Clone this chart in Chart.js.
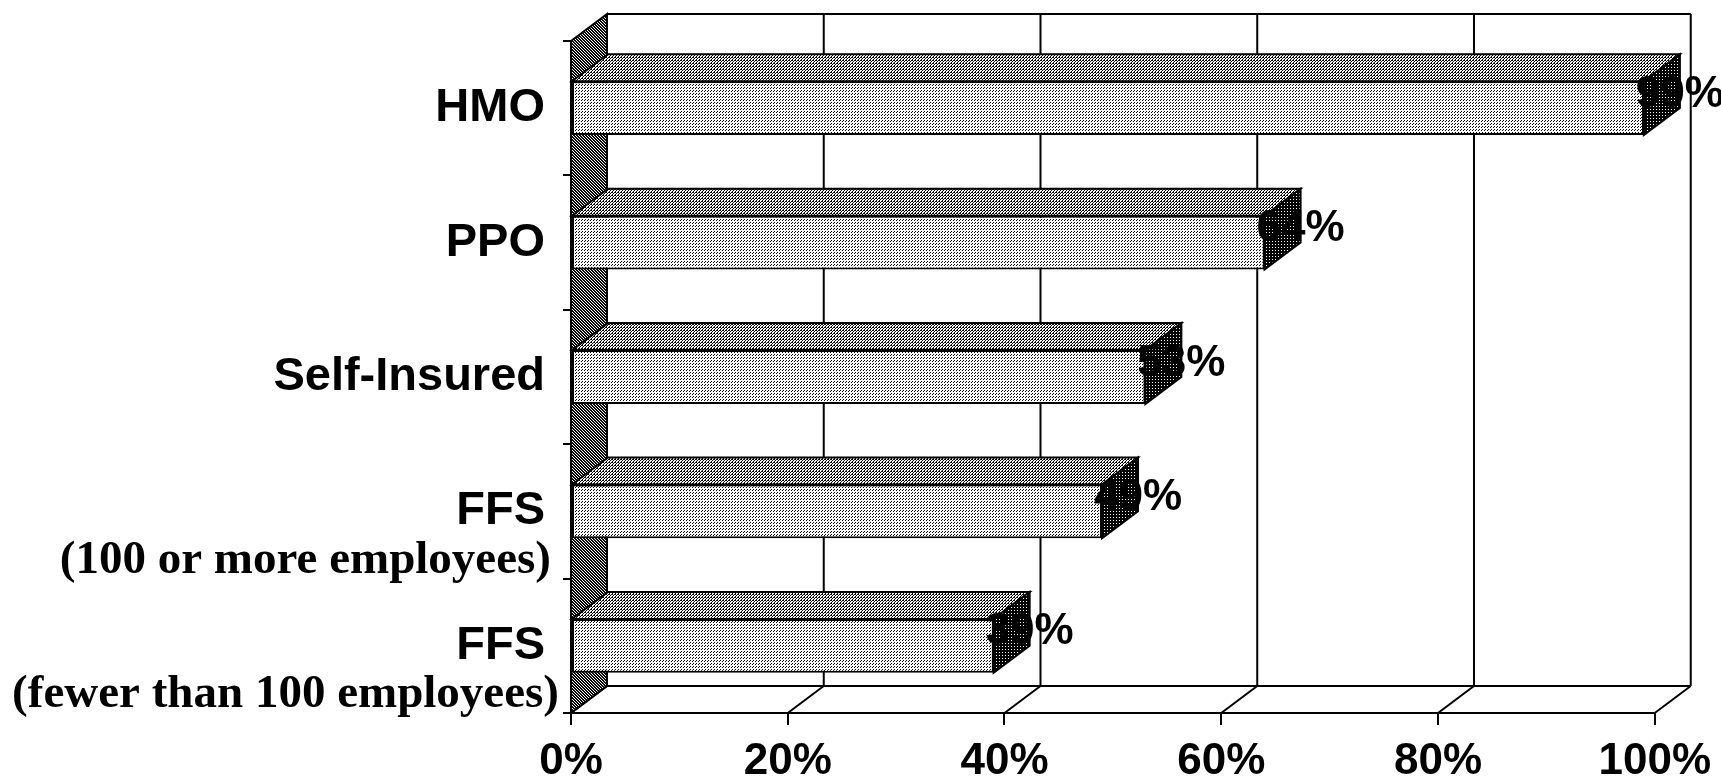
<!DOCTYPE html>
<html>
<head>
<meta charset="utf-8">
<script src="https://cdn.jsdelivr.net/npm/chart.js@4.4.1/dist/chart.umd.min.js"></script>
<style>
  body { margin: 0; background: #fff; }
  canvas { display: block; }
</style>
</head>
<body>
<canvas id="planChart" width="1721" height="784"></canvas>
<script>
// Data
const planNames = ['HMO', 'PPO', 'Self-Insured', 'FFS', 'FFS'];
const planNotes = ['', '', '', '(100 or more employees)', '(fewer than 100 employees)'];
const planShares = [99, 64, 53, 49, 39];
const shareTicks = [0, 20, 40, 60, 80, 100];

// depth offset of the fake 3D box
const DX = 36;
const DY = -27;

const canvas = document.getElementById('planChart');
const ctx = canvas.getContext('2d');

// Small stipple tiles to mimic the printed dot screens
const makePattern = (size, dots) => {
    const c = document.createElement('canvas');
    c.width = size;
    c.height = size;
    const g = c.getContext('2d');
    g.fillStyle = '#fff';
    g.fillRect(0, 0, size, size);
    g.fillStyle = '#000';
    dots.forEach(([x, y]) => g.fillRect(x, y, 1, 1));
    return ctx.createPattern(c, 'repeat');
};

const frontFill = makePattern(3, [[0, 0], [2, 1]]);
const topFill = makePattern(3, [[0, 0], [2, 0], [1, 1], [0, 2]]);
const wallFill = makePattern(3, [[0, 0], [1, 0], [1, 1], [2, 1], [0, 2], [2, 2]]);
const endFill = makePattern(3, [[0, 0], [1, 0], [2, 0], [1, 1], [2, 1], [0, 2], [1, 2], [2, 2]]);

const poly = (c, pts, fill) => {
    c.beginPath();
    c.moveTo(pts[0][0], pts[0][1]);
    pts.slice(1).forEach(p => c.lineTo(p[0], p[1]));
    c.closePath();
    if (fill) {
        c.fillStyle = fill;
        c.fill();
    }
    c.stroke();
};

const boxPlugin = {
    id: 'box3d',
    beforeDatasetsDraw(chart) {
        const c = chart.ctx;
        const area = chart.chartArea;
        const xs = chart.scales.x;
        c.save();
        c.strokeStyle = '#000';
        c.lineWidth = 2;

        // left wall
        poly(c, [
            [area.left, area.top],
            [area.left + DX, area.top + DY],
            [area.left + DX, area.bottom + DY],
            [area.left, area.bottom]
        ], wallFill);

        // back wall top edge and back floor edge
        c.beginPath();
        c.moveTo(area.left + DX, area.top + DY);
        c.lineTo(xs.getPixelForValue(100) + DX, area.top + DY);
        c.moveTo(area.left + DX, area.bottom + DY);
        c.lineTo(xs.getPixelForValue(100) + DX, area.bottom + DY);
        c.stroke();

        // back wall verticals and floor diagonals
        shareTicks.forEach(v => {
            const px = xs.getPixelForValue(v);
            c.beginPath();
            if (v > 0) {
                c.moveTo(px + DX, area.top + DY);
                c.lineTo(px + DX, area.bottom + DY);
            }
            c.moveTo(px + DX, area.bottom + DY);
            c.lineTo(px, area.bottom);
            c.stroke();
        });
        c.restore();
    },
    afterDatasetsDraw(chart) {
        const c = chart.ctx;
        const meta = chart.getDatasetMeta(0);
        c.save();
        c.strokeStyle = '#000';
        c.lineWidth = 2;
        meta.data.forEach((bar, i) => {
            const { x, y, base, height } = bar.getProps(['x', 'y', 'base', 'height'], true);
            const top = y - height / 2;
            const bottom = y + height / 2;
            // top face
            poly(c, [[base, top], [base + DX, top + DY], [x + DX, top + DY], [x, top]], topFill);
            // end face
            poly(c, [[x, top], [x + DX, top + DY], [x + DX, bottom + DY], [x, bottom]], endFill);
            // value label
            c.fillStyle = '#000';
            c.font = 'bold 44px "Liberation Sans", Arial, sans-serif';
            c.textAlign = 'center';
            c.textBaseline = 'middle';
            c.fillText(planShares[i] + '%', x + DX, y + DY / 2);
        });
        c.restore();
    },
    afterDraw(chart) {
        const c = chart.ctx;
        const ys = chart.scales.y;
        const right = chart.chartArea.left - 26;
        c.save();
        c.fillStyle = '#000';
        c.textAlign = 'right';
        c.textBaseline = 'middle';
        planNames.forEach((name, i) => {
            const py = ys.getPixelForValue(i);
            c.font = 'bold 47px "Liberation Sans", Arial, sans-serif';
            c.fillText(name, right, py);
            if (planNotes[i]) {
                c.font = 'bold 47px "Liberation Serif", "Times New Roman", serif';
                c.fillText(planNotes[i], right + 6 + (i === 4 ? 8 : 0), py + 49);
            }
        });
        c.restore();
    }
};

new Chart(ctx, {
    type: 'bar',
    data: {
        labels: planNames,
        datasets: [{
            data: planShares,
            backgroundColor: frontFill,
            borderColor: '#000',
            borderWidth: 2,
            borderSkipped: false,
            barPercentage: 0.4,
            categoryPercentage: 1
        }]
    },
    options: {
        indexAxis: 'y',
        responsive: false,
        animation: false,
        layout: {
            padding: { top: 41, right: 66, left: 0, bottom: 0 }
        },
        plugins: {
            legend: { display: false },
            tooltip: { enabled: false }
        },
        scales: {
            x: {
                min: 0,
                max: 100,
                afterFit: (scale) => { scale.height = 71; },
                afterBuildTicks: (scale) => {
                    scale.ticks = shareTicks.map(v => ({ value: v }));
                },
                ticks: {
                    color: '#000',
                    padding: 10,
                    font: { family: '"Liberation Sans", Arial, sans-serif', size: 44, weight: 'bold' },
                    callback: (v) => v + '%'
                },
                grid: {
                    drawOnChartArea: false,
                    color: '#000',
                    lineWidth: 2,
                    tickLength: 12
                },
                border: { color: '#000', width: 2 }
            },
            y: {
                afterFit: (scale) => { scale.width = 571; },
                ticks: { display: false },
                grid: {
                    drawOnChartArea: false,
                    color: '#000',
                    lineWidth: 2,
                    tickLength: 8
                },
                border: { color: '#000', width: 2 }
            }
        }
    },
    plugins: [boxPlugin]
});
</script>
</body>
</html>
